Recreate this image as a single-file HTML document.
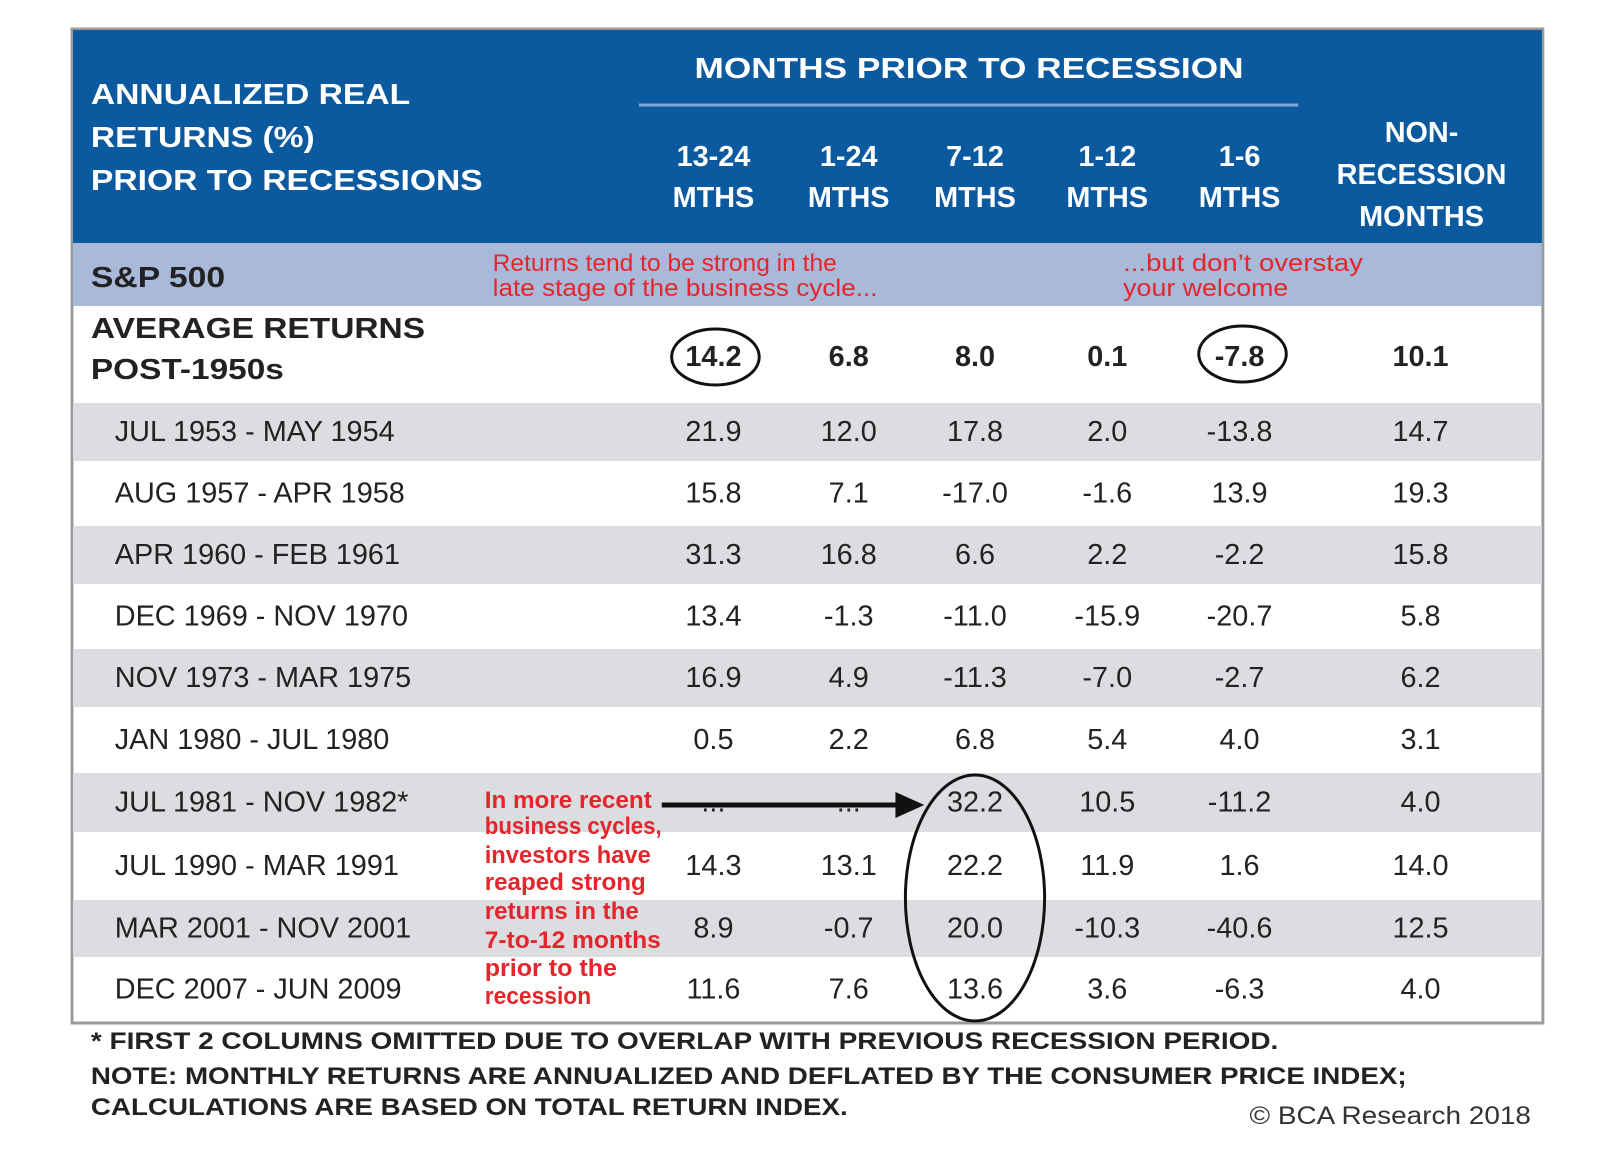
<!DOCTYPE html>
<html><head><meta charset="utf-8"><style>
html,body{margin:0;padding:0;background:#fff;}
svg{display:block;font-family:"Liberation Sans",Arial,sans-serif;}
</style></head><body>
<svg id="tbl" width="1600" height="1150" viewBox="0 0 1600 1150" xmlns="http://www.w3.org/2000/svg">
<g transform="translate(72,0) scale(0.9945,1) translate(-72,0)">
<rect x="72" y="29" width="1479" height="994" fill="#fff" stroke="#9a9a9a" stroke-width="3"/>
<rect x="73" y="30" width="1477" height="213" fill="#0b5aa0"/>
<rect x="73" y="243" width="1477" height="63" fill="#a9b9d9"/>
<g id="rows"></g>
<g fill="#fff" font-weight="bold" font-size="29">
<text x="91" y="104" textLength="321" lengthAdjust="spacingAndGlyphs">ANNUALIZED REAL</text>
<text x="91" y="147" textLength="225" lengthAdjust="spacingAndGlyphs">RETURNS (%)</text>
<text x="91" y="190" textLength="394" lengthAdjust="spacingAndGlyphs">PRIOR TO RECESSIONS</text>
<text x="698" y="78" textLength="552" lengthAdjust="spacingAndGlyphs">MONTHS PRIOR TO RECESSION</text>
</g>
<line x1="642" y1="105" x2="1305" y2="105" stroke="#7ea6d6" stroke-width="3"/>
<g id="colheads" fill="#fff" font-weight="bold" font-size="29" text-anchor="middle"></g>
<text x="91" y="287" font-size="29" font-weight="bold" fill="#222" textLength="135" lengthAdjust="spacingAndGlyphs">S&amp;P 500</text>
<g fill="#e3262b" font-size="24" font-family="'Liberation Sans Narrow','Liberation Sans',sans-serif">
<text x="495" y="271" textLength="346" lengthAdjust="spacingAndGlyphs">Returns tend to be strong in the</text>
<text x="495" y="296" textLength="387" lengthAdjust="spacingAndGlyphs">late stage of the business cycle...</text>
<text x="1129" y="271" textLength="241" lengthAdjust="spacingAndGlyphs">...but don’t overstay</text>
<text x="1129" y="296" textLength="166" lengthAdjust="spacingAndGlyphs">your welcome</text>
</g>
<g id="recent" fill="#e3262b" font-size="24" font-weight="bold" font-family="'Liberation Sans Narrow','Liberation Sans',sans-serif"></g>
<g fill="none" stroke="#111" stroke-width="3">
<ellipse cx="719" cy="357" rx="44" ry="28"/>
<ellipse cx="1249" cy="354" rx="44" ry="28"/>
<ellipse cx="980" cy="898" rx="70" ry="123"/>
<line x1="665" y1="805" x2="905" y2="805" stroke-width="5"/>
</g>
<polygon points="900,792 929,805 900,818" fill="#111"/>
<g fill="#222" font-weight="bold" font-size="24">
<text x="91" y="1049" textLength="1194" lengthAdjust="spacingAndGlyphs">*  FIRST 2 COLUMNS OMITTED DUE TO OVERLAP WITH PREVIOUS RECESSION PERIOD.</text>
<text x="91" y="1084" textLength="1323" lengthAdjust="spacingAndGlyphs">NOTE: MONTHLY RETURNS ARE ANNUALIZED AND DEFLATED BY THE CONSUMER PRICE INDEX;</text>
<text x="91" y="1115" textLength="761" lengthAdjust="spacingAndGlyphs">CALCULATIONS ARE BASED ON TOTAL RETURN INDEX.</text>
</g>
<text x="1256" y="1124" font-size="25" fill="#333" textLength="283" lengthAdjust="spacingAndGlyphs">© BCA Research 2018</text>
</g>
</svg>
<script>
const columns = ["13-24 MTHS","1-24 MTHS","7-12 MTHS","1-12 MTHS","1-6 MTHS"];
const periods = ["JUL 1953 - MAY 1954","AUG 1957 - APR 1958","APR 1960 - FEB 1961","DEC 1969 - NOV 1970","NOV 1973 - MAR 1975","JAN 1980 - JUL 1980","JUL 1981 - NOV 1982*","JUL 1990 - MAR 1991","MAR 2001 - NOV 2001","DEC 2007 - JUN 2009"];
const col1324 = ["21.9","15.8","31.3","13.4","16.9","0.5","...","14.3","8.9","11.6"];
const col124 = ["12.0","7.1","16.8","-1.3","4.9","2.2","...","13.1","-0.7","7.6"];
const col712 = ["17.8","-17.0","6.6","-11.0","-11.3","6.8","32.2","22.2","20.0","13.6"];
const col112 = ["2.0","-1.6","2.2","-15.9","-7.0","5.4","10.5","11.9","-10.3","3.6"];
const col16 = ["-13.8","13.9","-2.2","-20.7","-2.7","4.0","-11.2","1.6","-40.6","-6.3"];
const colNonRec = ["14.7","19.3","15.8","5.8","6.2","3.1","4.0","14.0","12.5","4.0"];
const averages = ["14.2","6.8","8.0","0.1","-7.8","10.1"];
const recentNote = ["In more recent","business cycles,","investors have","reaped strong","returns in the","7-to-12 months","prior to the","recession"];

const NS="http://www.w3.org/2000/svg";
const colX=[717,853,980,1113,1246,1428];
const rowTop=[403,465,526,588,649,711,773,836,900,961];
const rowBot=[465,526,588,649,711,773,836,900,961,1022];
function mk(tag,attrs,parent,txt){const e=document.createElementNS(NS,tag);for(const k in attrs)e.setAttribute(k,attrs[k]);if(txt!==undefined)e.textContent=txt;parent.appendChild(e);return e;}
const rows=document.getElementById('rows');
const series=[col1324,col124,col712,col112,col16,colNonRec];
let g=mk('g',{},rows);


let t=mk('text',{x:91,y:338,'font-size':29,'font-weight':'bold',fill:'#222',textLength:336,lengthAdjust:'spacingAndGlyphs'},g,'AVERAGE RETURNS');


t=mk('text',{x:91,y:379,'font-size':29,'font-weight':'bold',fill:'#222',textLength:194,lengthAdjust:'spacingAndGlyphs'},g,'POST-1950s');


averages.forEach((v,i)=>{
  const e=mk('text',{x:colX[i],y:357,'font-size':29,'font-weight':'bold',fill:'#222','text-anchor':'middle','dominant-baseline':'central'},g,v);
  
  
});
periods.forEach((p,r)=>{
  const rg=mk('g',{},rows);
  
  
  if(r%2===0){const b=mk('rect',{x:73,y:rowTop[r],width:1477,height:rowBot[r]-rowTop[r]-4,fill:'#dcdde0'},rg);
    
    }
  const cy=(rowTop[r]+rowBot[r])/2-2;
  const l=mk('text',{x:115,y:cy,'font-size':29,fill:'#222','dominant-baseline':'central'},rg,p);
  
  
  series.forEach((s,c)=>{
    const e=mk('text',{x:colX[c],y:cy,'font-size':29,fill:'#222','text-anchor':'middle','dominant-baseline':'central'},rg,s[r]);
    
    
  });
});
const ch=document.getElementById('colheads');
columns.forEach((c,i)=>{
  const parts=c.split(' ');
  parts.forEach((pt,j)=>{
    const e=mk('text',{x:colX[i],y:166+j*41},ch,pt);
    
    
  });
});
["NON-","RECESSION","MONTHS"].forEach((pt,j)=>{
  const e=mk('text',{x:colX[5]+1,y:142+j*42},ch,pt);
  
  
});
const rc=document.getElementById('recent');
const ry=[800,826,855,882,911,940,968,996];
const rw=[168,178,167,162,155,177,133,107];
recentNote.forEach((s,i)=>{
  const e=mk('text',{x:487,y:ry[i]+8,textLength:rw[i],lengthAdjust:'spacingAndGlyphs'},rc,s);
  
  
});
</script>
</body></html>
